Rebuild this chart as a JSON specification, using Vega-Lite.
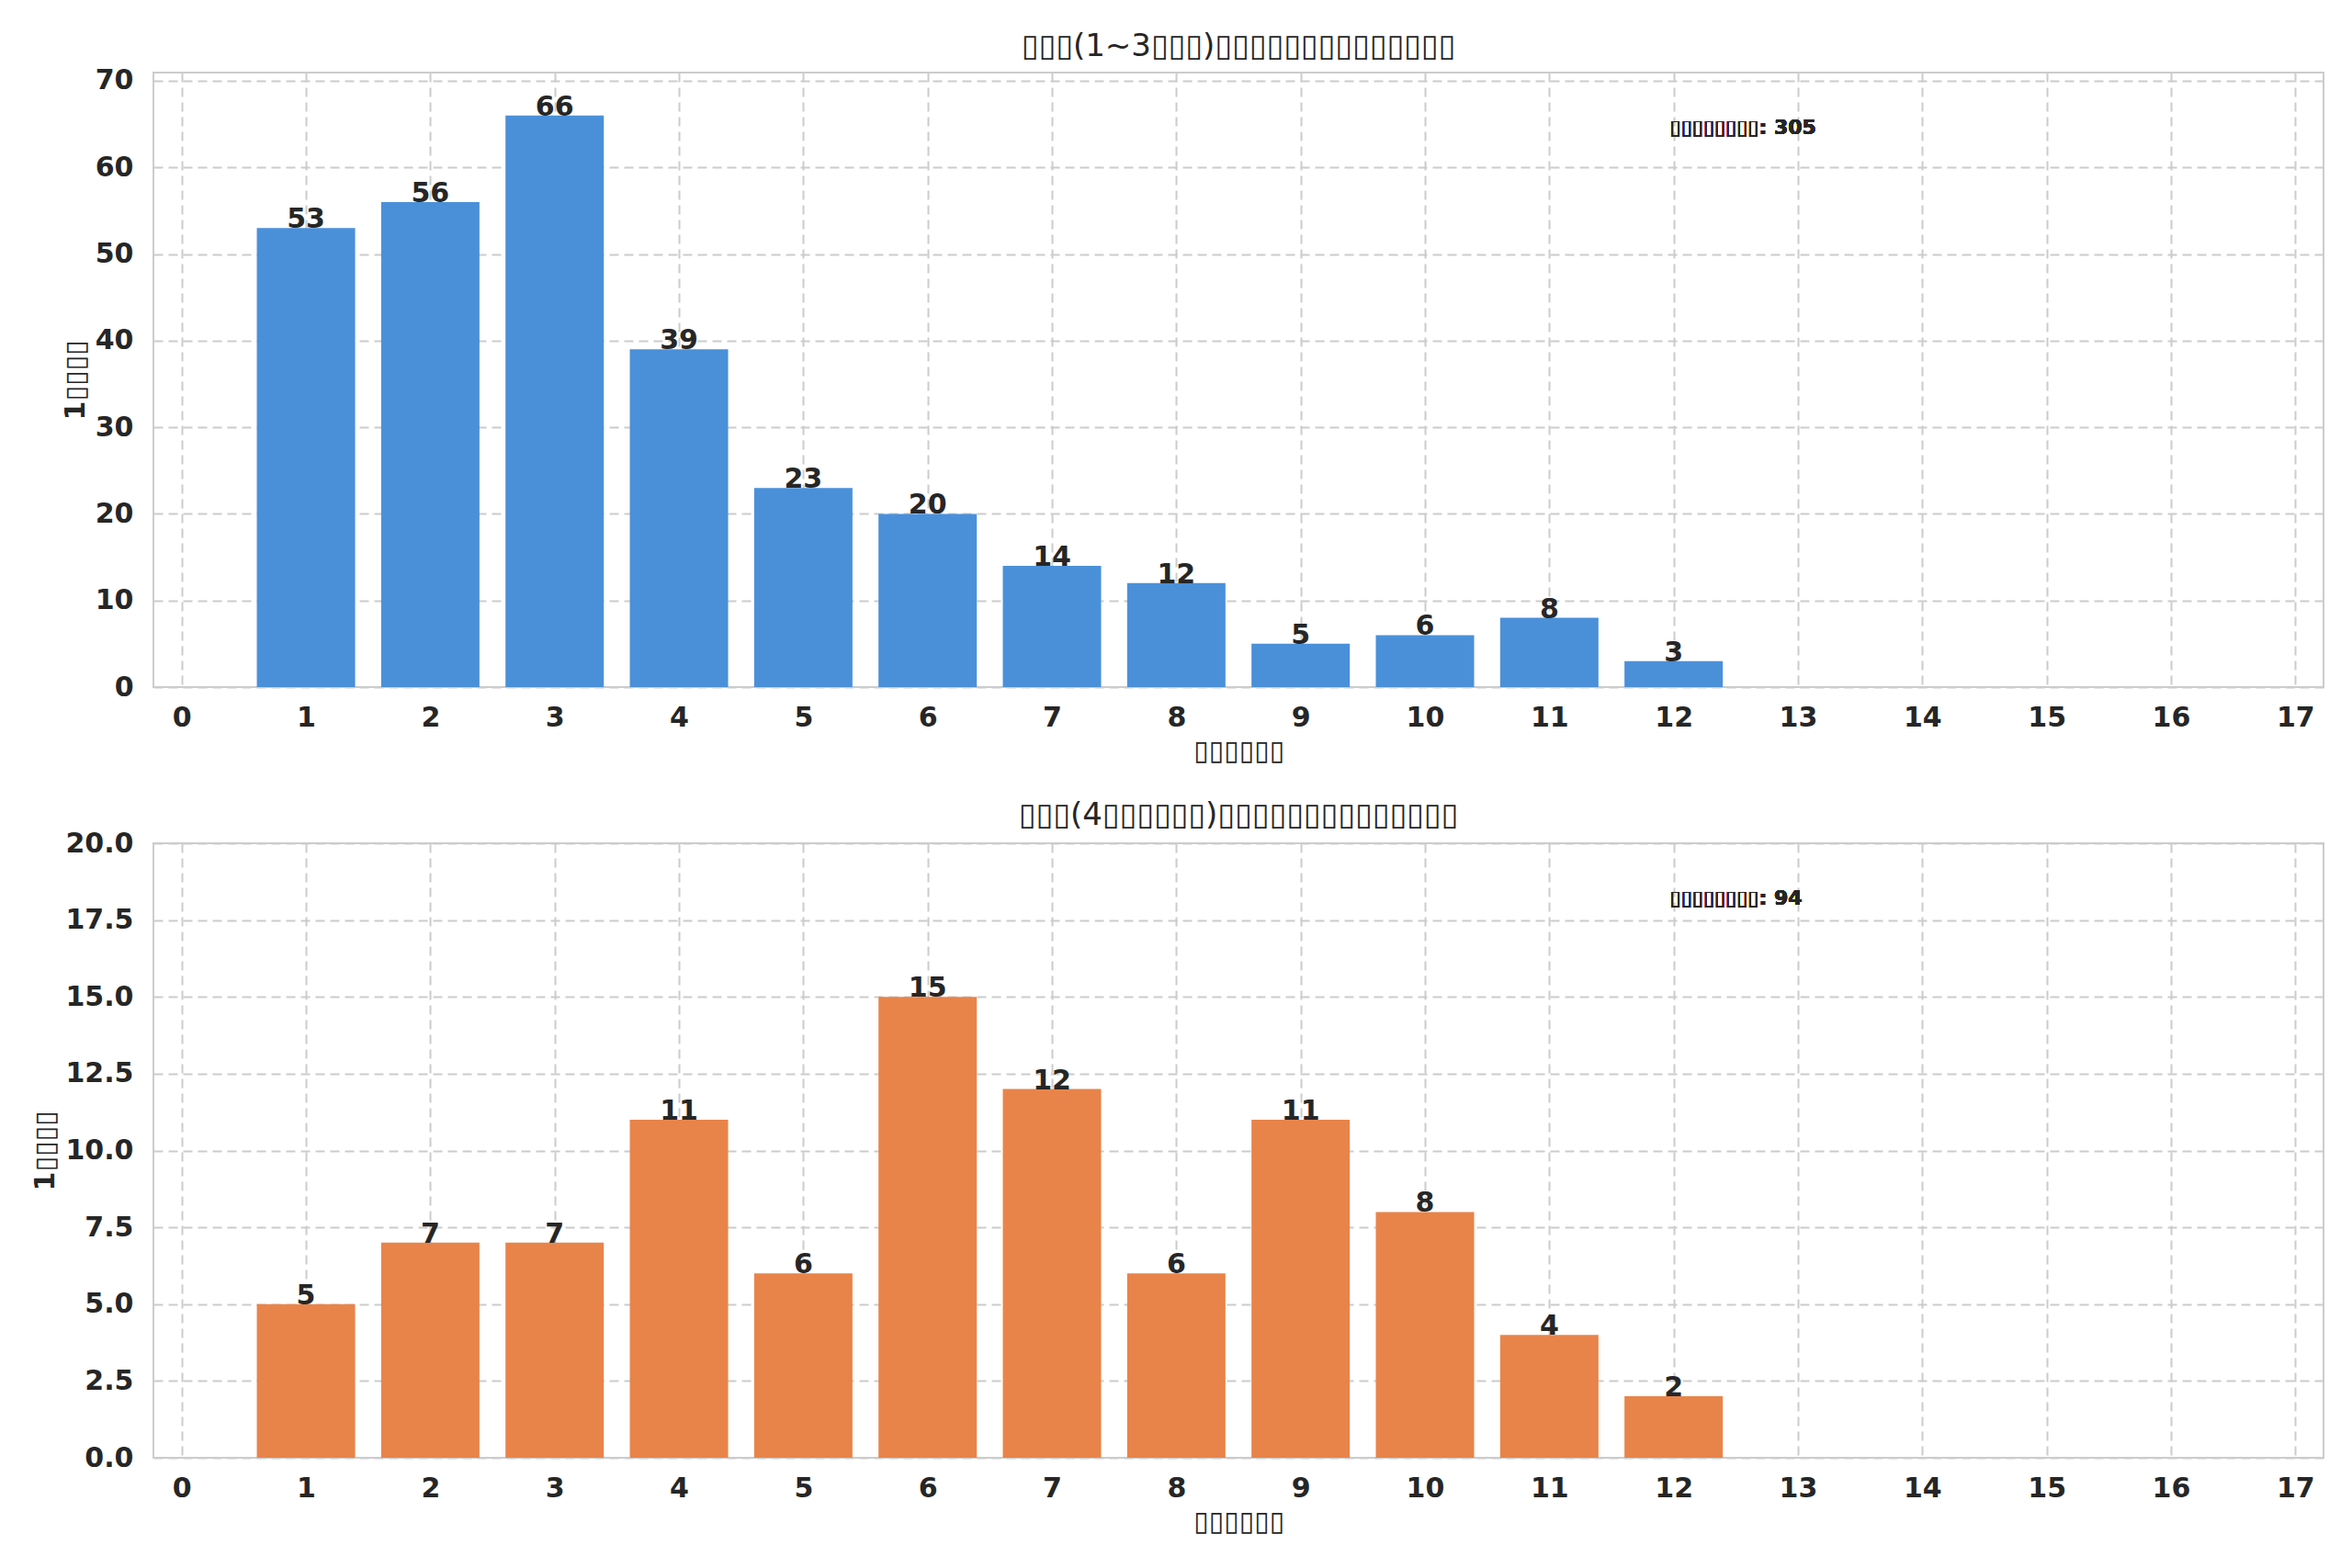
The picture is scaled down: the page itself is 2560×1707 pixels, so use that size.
{
  "$schema": "https://vega.github.io/schema/vega-lite/v6.json",
  "background": "white",
  "padding": {"left": 33, "top": 32, "right": 31, "bottom": 20},
  "spacing": 37,
  "datasets": {
    "top": [
      {"day": 1, "count": 53}, {"day": 2, "count": 56}, {"day": 3, "count": 66},
      {"day": 4, "count": 39}, {"day": 5, "count": 23}, {"day": 6, "count": 20},
      {"day": 7, "count": 14}, {"day": 8, "count": 12}, {"day": 9, "count": 5},
      {"day": 10, "count": 6}, {"day": 11, "count": 8}, {"day": 12, "count": 3}
    ],
    "bottom": [
      {"day": 1, "count": 5}, {"day": 2, "count": 7}, {"day": 3, "count": 7},
      {"day": 4, "count": 11}, {"day": 5, "count": 6}, {"day": 6, "count": 15},
      {"day": 7, "count": 12}, {"day": 8, "count": 6}, {"day": 9, "count": 11},
      {"day": 10, "count": 8}, {"day": 11, "count": 4}, {"day": 12, "count": 2}
    ]
  },
  "vconcat": [
    {
      "width": 2362,
      "height": 669,
      "title": {"text": "▯▯▯(1~3▯▯▯)▯▯▯▯▯▯▯▯▯▯▯▯▯▯", "offset": 5},
      "data": {"name": "top"},
      "encoding": {
        "x": {"field": "day", "type": "quantitative", "title": "▯▯▯▯▯▯",
              "scale": {"domain": [-0.19, 17.19], "nice": false, "zero": false},
              "axis": {"values": [0,1,2,3,4,5,6,7,8,9,10,11,12,13,14,15,16,17]}},
        "y": {"field": "count", "type": "quantitative", "title": "1▯▯▯▯",
              "scale": {"domain": [0, 70.95], "nice": false},
              "axis": {"values": [0,10,20,30,40,50,60,70]}}
      },
      "layer": [
        {"mark": {"type": "bar", "width": 107, "color": "#4A90D9"}},
        {"mark": {"type": "text", "baseline": "bottom", "dy": 6, "fontSize": 30, "fontWeight": "bold", "color": "#262626"},
         "encoding": {"text": {"field": "count", "type": "quantitative"}}},
        {"mark": {"type": "text", "align": "left", "baseline": "alphabetic", "fontSize": 22, "fontWeight": "bold", "color": "#262626"},
         "encoding": {"x": {"datum": 11.97}, "y": {"datum": 63.85}, "text": {"value": "▯▯▯▯▯▯▯▯: 305"}}}
      ]
    },
    {
      "width": 2362,
      "height": 669,
      "title": {"text": "▯▯▯(4▯▯▯▯▯▯)▯▯▯▯▯▯▯▯▯▯▯▯▯▯", "offset": -2},
      "data": {"name": "bottom"},
      "encoding": {
        "x": {"field": "day", "type": "quantitative", "title": "▯▯▯▯▯▯",
              "scale": {"domain": [-0.19, 17.19], "nice": false, "zero": false},
              "axis": {"values": [0,1,2,3,4,5,6,7,8,9,10,11,12,13,14,15,16,17]}},
        "y": {"field": "count", "type": "quantitative", "title": "1▯▯▯▯",
              "scale": {"domain": [0, 20], "nice": false},
              "axis": {"values": [0,2.5,5,7.5,10,12.5,15,17.5,20], "format": ".1f"}}
      },
      "layer": [
        {"mark": {"type": "bar", "width": 107, "color": "#E8844A"}},
        {"mark": {"type": "text", "baseline": "bottom", "dy": 6, "fontSize": 30, "fontWeight": "bold", "color": "#262626"},
         "encoding": {"text": {"field": "count", "type": "quantitative"}}},
        {"mark": {"type": "text", "align": "left", "baseline": "alphabetic", "fontSize": 22, "fontWeight": "bold", "color": "#262626"},
         "encoding": {"x": {"datum": 11.97}, "y": {"datum": 18}, "text": {"value": "▯▯▯▯▯▯▯▯: 94"}}}
      ]
    }
  ],
  "config": {
    "font": "DejaVu Sans",
    "view": {"stroke": "#cccccc", "strokeWidth": 2},
    "title": {"fontSize": 34, "fontWeight": "normal", "color": "#262626", "anchor": "middle"},
    "axis": {
      "domain": false,
      "ticks": false,
      "grid": true,
      "gridColor": "#cccccc",
      "gridDash": [10, 6],
      "gridWidth": 2,
      "labelFontSize": 30,
      "labelFontWeight": "bold",
      "labelColor": "#262626",
      "labelPadding": 18,
      "titleFontSize": 30,
      "titleFontWeight": "bold",
      "titleColor": "#262626",
      "titlePadding": 6
    },
    "axisX": {"labelAngle": 0, "labelFlush": false},
    "axisY": {"labelPadding": 22, "titlePadding": 6}
  }
}
